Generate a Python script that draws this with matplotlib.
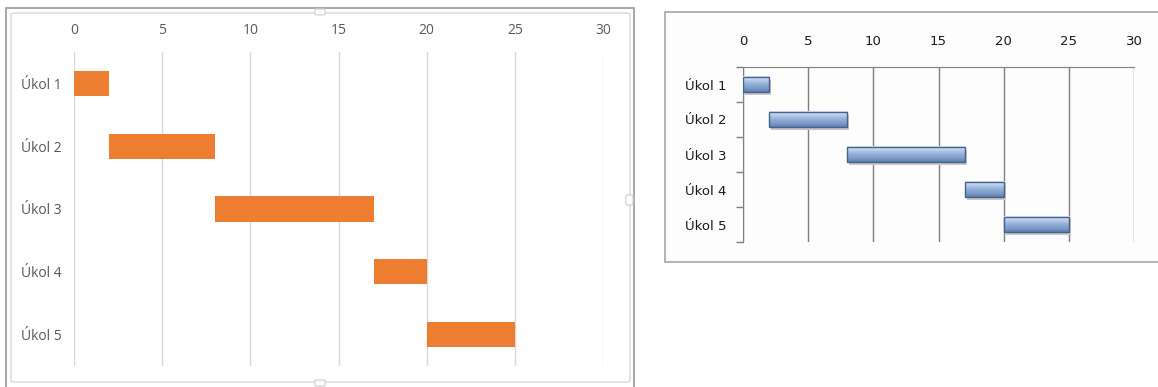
import matplotlib
matplotlib.use("Agg")
import matplotlib.pyplot as plt
import numpy as np
from matplotlib.patches import Rectangle, FancyBboxPatch

# Data
tasks = ["Úkol 1", "Úkol 2", "Úkol 3", "Úkol 4", "Úkol 5"]
start = [0, 2, 8, 17, 20]
duration = [2, 6, 9, 3, 5]
xticks = [0, 5, 10, 15, 20, 25, 30]

W, H = 1158, 387
fig = plt.figure(figsize=(W / 100, H / 100), dpi=100)
fig.patch.set_facecolor("white")


def fx(px):
    return px / W


def fy(py):
    return 1 - py / H


# ---- left chart: frame ----
fig.patches.append(Rectangle((fx(6), fy(395)), fx(628), (395 - 8) / H,
                             transform=fig.transFigure, facecolor="white",
                             edgecolor="#9a9a9a", lw=1.2, zorder=-3))
fig.patches.append(FancyBboxPatch((fx(11), fy(382)), fx(619), (382 - 13) / H,
                                  boxstyle="round,pad=0,rounding_size=0.004",
                                  transform=fig.transFigure, facecolor="white",
                                  edgecolor="#d9d9d9", lw=1.0, zorder=-2))
for hx, hy, hw, hh in [(315, 9, 10, 6), (626, 195, 7, 10), (315, 380, 10, 6)]:
    fig.patches.append(FancyBboxPatch((fx(hx), fy(hy + hh)), fx(hw), hh / H,
                                      boxstyle="round,pad=0,rounding_size=0.002",
                                      transform=fig.transFigure, facecolor="white",
                                      edgecolor="#d0d0d0", lw=0.8, zorder=-1))

ax1 = fig.add_axes([fx(74), fy(366), fx(603 - 74), (366 - 52) / H])
ax1.set_facecolor("none")
y = np.arange(len(tasks))
ax1.barh(y, duration, left=start, height=0.4, color="#ed7d31", zorder=3)
ax1.set_xlim(0, 30)
ax1.set_ylim(len(tasks) - 0.5, -0.5)
ax1.set_xticks(xticks)
ax1.set_yticks(y)
ax1.set_yticklabels(tasks)
ax1.grid(axis="x", color="#d9d9d9", lw=1.0, zorder=0)
ax1.tick_params(axis="x", top=True, labeltop=True, bottom=False, labelbottom=False,
                length=0, pad=10, colors="#595959", labelsize=10)
ax1.tick_params(axis="y", length=0, pad=9, colors="#595959", labelsize=10)
for lab in ax1.get_xticklabels() + ax1.get_yticklabels():
    lab.set_family("Open Sans")
for s in ax1.spines.values():
    s.set_visible(False)

# ---- right chart: frame ----
fig.patches.append(Rectangle((fx(665), fy(262)), fx(520), (262 - 12) / H,
                             transform=fig.transFigure, facecolor="#fcfdfc",
                             edgecolor="#a6a6a6", lw=1.2, zorder=-3))

ax2 = fig.add_axes([fx(743), fy(242), fx(1134 - 743), (242 - 67) / H])
ax2.set_facecolor("none")
bh = 0.43
grad = np.linspace(0, 1, 64).reshape(-1, 1)
cmap = matplotlib.colors.LinearSegmentedColormap.from_list(
    "bevel", ["#e4ecf7", "#b9cde8", "#94b0d8", "#7f9cc8", "#5f7fb0"])
for i in range(len(tasks)):
    # shadow
    ax2.add_patch(Rectangle((start[i] + 0.15, i - bh / 2 + 0.08), duration[i], bh,
                            facecolor="#c8c8c8", edgecolor="none", zorder=2))
    ax2.imshow(grad, cmap=cmap, aspect="auto", zorder=3,
               extent=(start[i], start[i] + duration[i], i + bh / 2, i - bh / 2))
    ax2.add_patch(Rectangle((start[i], i - bh / 2), duration[i], bh,
                            facecolor="none", edgecolor="#44618f", lw=1.0, zorder=4))
ax2.set_xlim(0, 30)
ax2.set_ylim(len(tasks) - 0.5, -0.5)
ax2.set_xticks(xticks)
ax2.set_yticks(y)
ax2.set_yticklabels(tasks)
ax2.set_yticks(np.arange(-0.5, len(tasks), 1), minor=True)
ax2.grid(axis="x", color="#7f7f7f", lw=1.0, zorder=0)
ax2.tick_params(axis="x", top=True, labeltop=True, bottom=False, labelbottom=False,
                length=0, pad=14, colors="#1a1a1a", labelsize=9.5)
ax2.tick_params(axis="y", which="major", length=0, pad=12, colors="#1a1a1a", labelsize=9.5)
ax2.tick_params(axis="y", which="minor", length=5, width=1, color="#7f7f7f", direction="out")
for lab in ax2.get_xticklabels() + ax2.get_yticklabels():
    lab.set_family("DejaVu Sans")
for k in ["right", "bottom"]:
    ax2.spines[k].set_visible(False)
ax2.spines["top"].set_color("#7f7f7f")
ax2.spines["left"].set_color("#7f7f7f")

fig.savefig("out.png", dpi=100)
